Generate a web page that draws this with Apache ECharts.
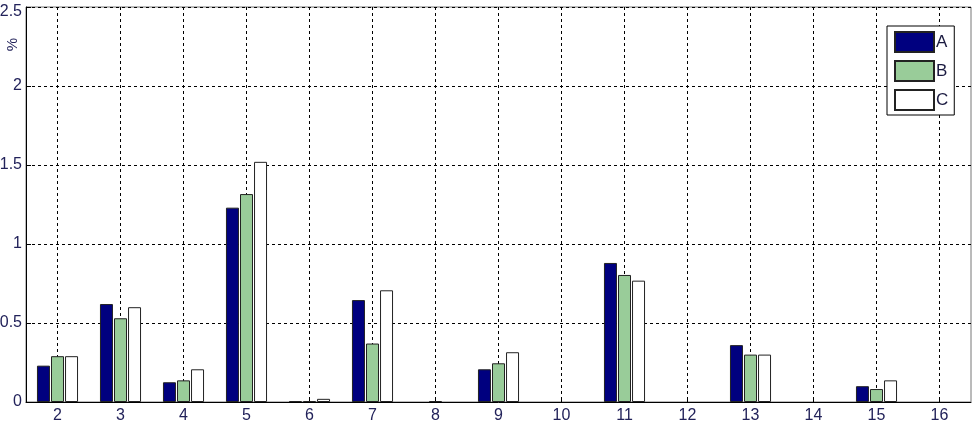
<!DOCTYPE html>
<html>
<head>
<meta charset="utf-8">
<script src="https://cdn.jsdelivr.net/npm/echarts@6/dist/echarts.min.js"></script>
<style>
  html, body { margin: 0; padding: 0; background: #fff; }
  #chart { width: 974px; height: 430px; }
</style>
</head>
<body>
<div id="chart"></div>
<script>
// x categories
const categories = ['2', '3', '4', '5', '6', '7', '8', '9', '10', '11', '12', '13', '14', '15', '16']
// series values (%), null = no bar
const valuesA = [0.23, 0.62, 0.125, 1.23, 0.006, 0.645, null, 0.207, null, 0.88, null, 0.36, null, 0.10, null]
const valuesB = [0.29, 0.53, 0.137, 1.316, 0.006, 0.37, 0.006, 0.245, null, 0.804, null, 0.30, null, 0.082, null]
const valuesC = [0.29, 0.60, 0.207, 1.52, 0.02, 0.707, null, 0.315, null, 0.768, null, 0.30, null, 0.137, null]
const seriesNames = ['A', 'B', 'C']

const font = "'Liberation Sans', Arial, sans-serif"
const labelColor = '#22225a'
const gridDash = { color: '#000', type: [3, 3], width: 1 }

const chart = echarts.init(document.getElementById('chart'))

function barSeries(name, data, color) {
  return {
    name: name,
    type: 'bar',
    data: data,
    barWidth: 13,
    barGap: '8%',
    itemStyle: { color: color, borderColor: '#222', borderWidth: 1 }
  }
}

const option = {
  animation: false,
  backgroundColor: '#fff',
  grid: {
    left: 26, right: 3, top: 7, bottom: 28,
    containLabel: false,
    outerBoundsMode: 'none',
    show: true, borderColor: '#777', borderWidth: 1
  },
  legend: {
    orient: 'vertical',
    left: 887, top: 26,
    padding: [5, 6, 4, 7],
    itemWidth: 39, itemHeight: 20, itemGap: 7,
    borderColor: '#000', borderWidth: 1,
    backgroundColor: '#fff',
    icon: 'rect',
    data: seriesNames,
    textStyle: { fontFamily: font, fontSize: 17, color: '#1a1a40', padding: [0, 0, 0, -3] }
  },
  xAxis: {
    type: 'category',
    data: categories,
    axisLine: { lineStyle: { color: '#000', width: 1 } },
    axisTick: { show: true, inside: true, alignWithLabel: true, length: 5, lineStyle: { color: '#000' } },
    axisLabel: { fontFamily: font, fontSize: 16, color: labelColor, margin: 6 },
    splitLine: { show: true, alignWithLabel: true, lineStyle: gridDash }
  },
  yAxis: {
    type: 'value',
    min: 0, max: 2.5, interval: 0.5,
    axisLine: { show: true, lineStyle: { color: '#000', width: 1 } },
    axisTick: { show: true, inside: true, length: 5, lineStyle: { color: '#000' } },
    axisLabel: {
      fontFamily: font, fontSize: 16, color: labelColor, margin: 4,
      // keep the top label inside the window, as in the original
      formatter: v => v === 2.5 ? '{t|2.5}' : String(v),
      rich: { t: { fontFamily: font, fontSize: 16, color: labelColor, padding: [10, 0, 0, 0] } }
    },
    splitLine: { show: true, lineStyle: gridDash }
  },
  graphic: [{
    type: 'text',
    left: 5, top: 38,
    rotation: Math.PI / 2,
    style: { text: '%', font: '15px ' + font, fill: labelColor }
  }],
  series: [
    barSeries('A', valuesA, '#00007f'),
    barSeries('B', valuesB, '#99cc99'),
    barSeries('C', valuesC, '#ffffff')
  ]
}

chart.setOption(option)
</script>
</body>
</html>
